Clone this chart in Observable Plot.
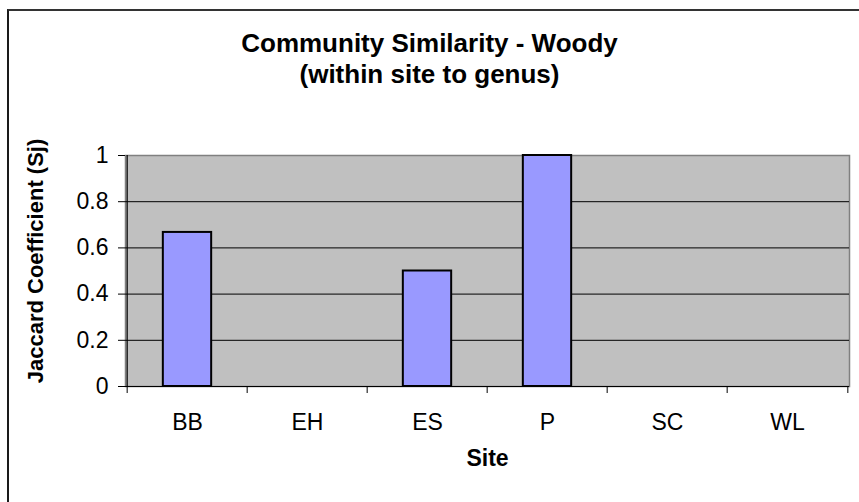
<!DOCTYPE html>
<html>
<head>
<meta charset="utf-8">
<script src="https://cdn.jsdelivr.net/npm/d3@7"></script>
<script src="https://cdn.jsdelivr.net/npm/@observablehq/plot@0.6"></script>
<style>
  html, body { margin: 0; padding: 0; background: #fff; }
  #wrap { position: relative; width: 859px; height: 502px; overflow: hidden; font-family: "Liberation Sans", Arial, sans-serif; }
  #border { position: absolute; left: 7px; top: 9px; width: 900px; height: 600px; border-left: 2px solid #1a1a1a; border-top: 2px solid #333; }
  #title { position: absolute; left: 0; width: 859px; top: 28px; text-align: center; font-weight: bold; font-size: 26px; line-height: 31px; color: #000; }
  #chart { position: absolute; left: 0; top: 0; }
</style>
</head>
<body>
<div id="wrap">
  <div id="border"></div>
  <div id="chart"></div>
  <div id="title">Community Similarity - Woody<br>(within site to genus)</div>
</div>
<script>
const sites = ["BB", "EH", "ES", "P", "SC", "WL"];
const values = [0.667, 0, 0.5, 1, 0, 0];
const yTicks = [0, 0.2, 0.4, 0.6, 0.8, 1];
const gridValues = [0.2, 0.4, 0.6, 0.8];
const yLabel = "Jaccard Coefficient (Sj)";
const xLabel = "Site";

const data = sites.map((s, i) => ({site: s, value: values[i]}));

const W = 859, H = 502, ML = 125, MR = 10, MT = 155, MB = 116;
const bw = (W - ML - MR) / sites.length;
const barW = 49;
const inset = (bw - barW) / 2;

const plot = Plot.plot({
  width: W,
  height: H,
  marginLeft: ML,
  marginRight: MR,
  marginTop: MT,
  marginBottom: MB,
  style: {fontFamily: '"Liberation Sans", Arial, sans-serif', background: "transparent", color: "#000"},
  x: {type: "band", domain: sites, padding: 0, label: null},
  y: {domain: [0, 1], label: null},
  marks: [
    Plot.frame({fill: "#c0c0c0", stroke: "#808080", strokeWidth: 1.5}),
    Plot.ruleY(gridValues, {stroke: "#000", strokeWidth: 1}),
    Plot.barY(data.filter(d => d.value > 0), {x: "site", y: "value", fill: "#9999ff", stroke: "#000", strokeWidth: 2, insetLeft: inset, insetRight: inset}),
    Plot.ruleX([sites[0]], {x: d => d, dx: -bw / 2, y1: 0, y2: 1, stroke: "#000", strokeWidth: 1.2}),
    Plot.ruleY([0], {stroke: "#000", strokeWidth: 1.2}),
    Plot.ruleX(sites, {x: d => d, dx: -bw / 2, y1: 0, y2: 0, insetBottom: -7, stroke: "#000", strokeWidth: 1}),
    Plot.ruleX([sites[sites.length - 1]], {x: d => d, dx: bw / 2, y1: 0, y2: 0, insetBottom: -7, stroke: "#000", strokeWidth: 1}),
    Plot.axisY({ticks: yTicks, tickFormat: d => String(d), tickSize: 7, tickPadding: 10, fontSize: 23, stroke: "#000", label: null}),
    Plot.axisX({tickSize: 0, tickPadding: 27, fontSize: 23, label: null}),
    Plot.text([yLabel], {frameAnchor: "left", textAnchor: "middle", dx: -90, dy: -10, rotate: -90, fontSize: 22, fontWeight: "bold", fill: "#000"}),
    Plot.text([xLabel], {frameAnchor: "bottom", textAnchor: "middle", dy: 79, fontSize: 23, fontWeight: "bold", fill: "#000"})
  ]
});
document.getElementById("chart").appendChild(plot);
</script>
</body>
</html>
